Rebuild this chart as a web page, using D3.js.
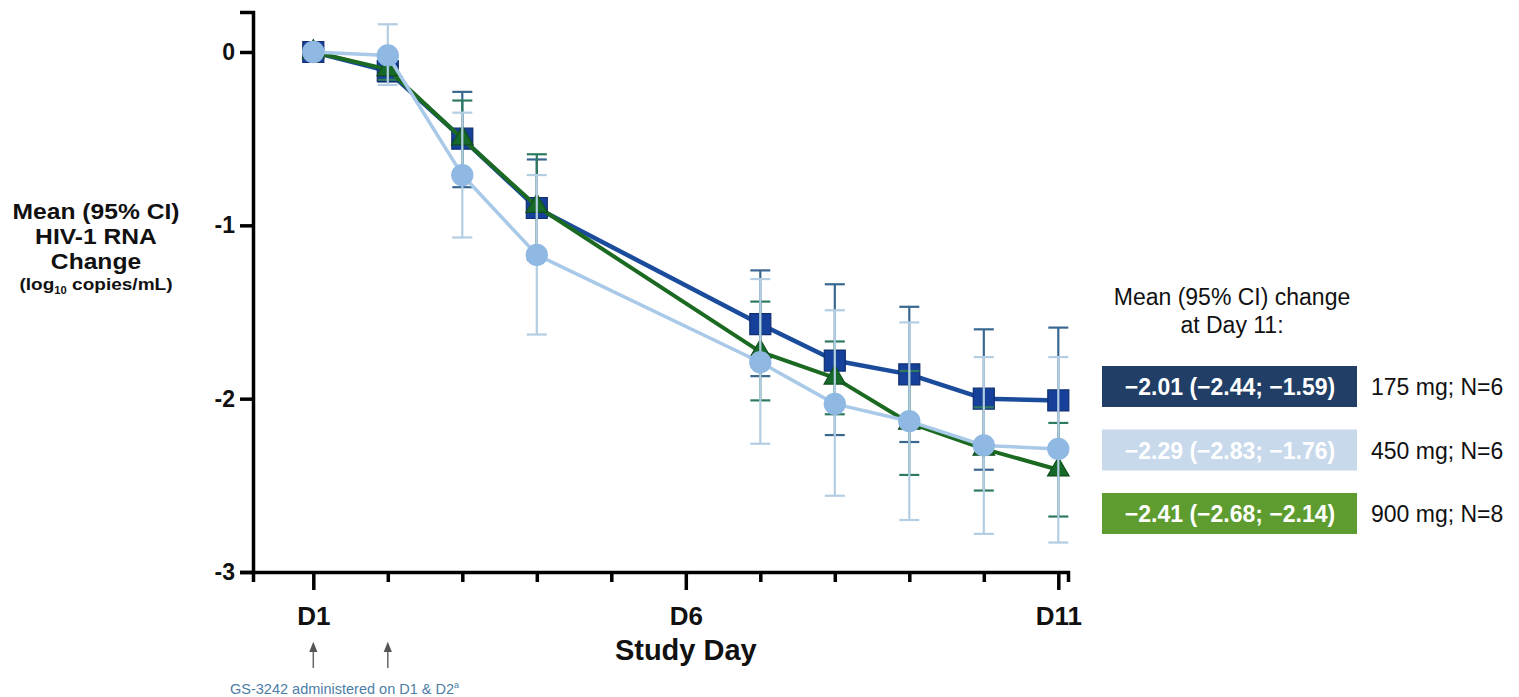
<!DOCTYPE html>
<html>
<head>
<meta charset="utf-8">
<script src="https://cdn.jsdelivr.net/npm/d3@7"></script>
<style>
  html, body { margin: 0; padding: 0; background: #ffffff; }
  svg { display: block; font-family: "Liberation Sans", Arial, sans-serif; }
</style>
</head>
<body>
<svg id="chart" width="1519" height="697"></svg>
<script>
// Study days with measurements
const days = [1, 2, 3, 4, 7, 8, 9, 10, 11];
const tickDays = [1, 2, 3, 4, 5, 6, 7, 8, 9, 10, 11];
const labeledDays = [1, 6, 11];
const yTicks = [0, -1, -2, -3];

// 175 mg; N=6
const mean175  = [0, -0.11, -0.50, -0.90, -1.57, -1.78, -1.86, -2.00, -2.01];
const upper175 = [0, -0.05, -0.23, -0.62, -1.26, -1.34, -1.47, -1.60, -1.59];
const lower175 = [0, -0.17, -0.78, -1.18, -1.87, -2.21, -2.25, -2.41, -2.44];

// 450 mg; N=6
const mean450  = [0, -0.02, -0.71, -1.17, -1.79, -2.03, -2.13, -2.27, -2.29];
const upper450 = [0,  0.16, -0.35, -0.71, -1.31, -1.49, -1.56, -1.76, -1.76];
const lower450 = [0, -0.19, -1.07, -1.63, -2.26, -2.56, -2.70, -2.78, -2.83];

// 900 mg; N=8
const mean900  = [0, -0.10, -0.50, -0.89, -1.73, -1.88, -2.14, -2.29, -2.41];
const upper900 = [0, -0.04, -0.28, -0.59, -1.44, -1.67, -1.84, -2.05, -2.14];
const lower900 = [0, -0.16, -0.72, -1.20, -2.01, -2.09, -2.44, -2.53, -2.68];

// Day 11 summary boxes
const day11Text = ["\u22122.01 (\u22122.44; \u22121.59)", "\u22122.29 (\u22122.83; \u22121.76)", "\u22122.41 (\u22122.68; \u22122.14)"];
const doseLabels = ["175 mg; N=6", "450 mg; N=6", "900 mg; N=8"];

const svg = d3.select("#chart");
const font = '"Liberation Sans", Arial, sans-serif';

// Scales
const x = d3.scaleLinear().domain([1, 11]).range([313.3, 1058.3]);
const y = d3.scaleLinear().domain([-3, 0]).range([572, 52]);

const axisLeftX = 253, axisRightX = 1068, axisTopY = 12;
const xAxisScale = x.copy().domain([x.invert(axisLeftX), x.invert(axisRightX)]).range([axisLeftX, axisRightX]);
const yAxisScale = y.copy().domain([-3, y.invert(axisTopY)]).range([572, axisTopY]);

// Series definitions (style lives here, values come from the arrays above)
const series = [
  { mean: mean175, upper: upper175, lower: lower175, line: "#1b4c9c", lineW: 4.5, err: "#3a6790", errW: 2.2, shape: "square", fill: "#17409a", stroke: "#0f2f70" },
  { mean: mean900, upper: upper900, lower: lower900, line: "#1c6a22", lineW: 4,   err: "#2e7a60", errW: 2.2, shape: "triangle", fill: "#17692a", stroke: "#0f4f1c" },
  { mean: mean450, upper: upper450, lower: lower450, line: "#a9c9e8", lineW: 3.5, err: "#b3cde3", errW: 2.2, shape: "circle", fill: "#8fb8e2", stroke: "#8fb8e2" }
];

const plot = svg.append("g");

series.forEach(s => {
  const pts = days.map((d, i) => ({ day: d, mean: s.mean[i], upper: s.upper[i], lower: s.lower[i] }));
  const g = plot.append("g");

  // confidence interval bars
  const eb = g.selectAll("g.err").data(pts.filter(p => p.upper !== p.lower)).join("g")
    .attr("stroke", s.err).attr("stroke-width", s.errW).attr("fill", "none");
  eb.append("line").attr("x1", p => x(p.day)).attr("x2", p => x(p.day))
    .attr("y1", p => y(p.upper)).attr("y2", p => y(p.lower));
  eb.append("line").attr("x1", p => x(p.day) - 10).attr("x2", p => x(p.day) + 10)
    .attr("y1", p => y(p.upper)).attr("y2", p => y(p.upper));
  eb.append("line").attr("x1", p => x(p.day) - 10).attr("x2", p => x(p.day) + 10)
    .attr("y1", p => y(p.lower)).attr("y2", p => y(p.lower));

  // mean line
  g.append("path").datum(pts)
    .attr("fill", "none").attr("stroke", s.line).attr("stroke-width", s.lineW)
    .attr("stroke-linejoin", "round")
    .attr("d", d3.line().x(p => x(p.day)).y(p => y(p.mean)));

  // markers
  const m = g.selectAll("path.mk").data(pts).join("path")
    .attr("class", "mk")
    .attr("transform", p => `translate(${x(p.day)},${y(p.mean)})`)
    .attr("fill", s.fill).attr("stroke", s.stroke).attr("stroke-width", 1.2);
  if (s.shape === "square") m.attr("d", d3.symbol(d3.symbolSquare, 441)());
  if (s.shape === "circle") m.attr("d", d3.symbol(d3.symbolCircle, 350)());
  if (s.shape === "triangle") m.attr("d", d3.symbol(d3.symbolTriangle, 200)());
});

// X axis
const xAxis = svg.append("g").attr("transform", `translate(0,${y(-3)})`)
  .call(d3.axisBottom(xAxisScale).tickValues(tickDays).tickSizeOuter(0).tickSize(10).tickPadding(25)
    .tickFormat(d => labeledDays.includes(d) ? "D" + d : ""));
xAxis.select(".domain").attr("stroke", "#000").attr("stroke-width", 3.5);
xAxis.selectAll(".tick line").attr("stroke", "#000").attr("stroke-width", 3.5)
  .attr("y2", d => labeledDays.includes(d) ? 18 : 10);
xAxis.selectAll(".tick text").attr("fill", "#111").style("font-family", font)
  .style("font-size", "26px").style("font-weight", "bold");

// Y axis
const yAxis = svg.append("g").attr("transform", `translate(${axisLeftX},0)`)
  .call(d3.axisLeft(yAxisScale).tickValues(yTicks).tickSizeOuter(0).tickSize(13).tickPadding(5)
    .tickFormat(d => d === 0 ? "0" : String(d)));
yAxis.select(".domain").attr("stroke", "#000").attr("stroke-width", 3.5);
yAxis.selectAll(".tick line").attr("stroke", "#000").attr("stroke-width", 3.5);
yAxis.selectAll(".tick text").attr("fill", "#111").style("font-family", font)
  .style("font-size", "23px").style("font-weight", "bold");

// Y axis title (slightly widened lettering)
const yTitleG = svg.append("g").attr("transform", "translate(96,0) scale(1.12,1)");
const yTitle = yTitleG.append("text").attr("text-anchor", "middle").attr("fill", "#111")
  .style("font-family", font).style("font-weight", "bold").style("font-size", "22px");
["Mean (95% CI)", "HIV-1 RNA", "Change"].forEach((t, i) => {
  yTitle.append("tspan").attr("x", 0).attr("y", 219 + i * 25).text(t);
});
const unit = yTitleG.append("text").attr("x", 0).attr("y", 290).attr("text-anchor", "middle")
  .attr("fill", "#111").style("font-family", font).style("font-weight", "bold").style("font-size", "17px");
unit.append("tspan").text("(log");
unit.append("tspan").attr("dy", 4).style("font-size", "10px").text("10");
unit.append("tspan").attr("dy", -4).text(" copies/mL)");

// X axis title
svg.append("text").attr("x", x(6)).attr("y", 660).attr("text-anchor", "middle")
  .attr("fill", "#111").style("font-family", font).style("font-weight", "bold").style("font-size", "29px")
  .text("Study Day");

// Dosing arrows on D1 and D2
const defs = svg.append("defs");
defs.append("marker").attr("id", "arrowHead").attr("viewBox", "0 0 10 10")
  .attr("refX", 5).attr("refY", 5).attr("markerWidth", 7).attr("markerHeight", 7).attr("orient", "auto")
  .append("path").attr("d", "M0,1 L10,5 L0,9 Z").attr("fill", "#555");
svg.selectAll("line.dose").data([1, 2]).join("line").attr("class", "dose")
  .attr("x1", d => x(d)).attr("x2", d => x(d)).attr("y1", 668).attr("y2", 647)
  .attr("stroke", "#666").attr("stroke-width", 1.5).attr("marker-end", "url(#arrowHead)");
const note = svg.append("text").attr("x", 230).attr("y", 694).attr("fill", "#4d7ea6")
  .style("font-family", font).style("font-size", "14.5px");
note.append("tspan").text("GS-3242 administered on D1 & D2");
note.append("tspan").attr("dy", -6).style("font-size", "9px").text("a");

// Day 11 summary legend
const legTitle = svg.append("text").attr("text-anchor", "middle").attr("fill", "#111")
  .style("font-family", font).style("font-size", "23px");
legTitle.append("tspan").attr("x", 1232).attr("y", 305).text("Mean (95% CI) change");
legTitle.append("tspan").attr("x", 1232).attr("y", 333).text("at Day 11:");

const boxColors = ["#213f66", "#c8d9ec", "#5e9c2f"];
const rowTop = i => 366 + i * 63.5;
const rows = svg.selectAll("g.legrow").data(day11Text).join("g").attr("class", "legrow");
rows.append("rect").attr("x", 1102).attr("y", (d, i) => rowTop(i)).attr("width", 255).attr("height", 41)
  .attr("fill", (d, i) => boxColors[i]);
rows.append("text").attr("x", 1230).attr("y", (d, i) => rowTop(i) + 29).attr("text-anchor", "middle")
  .attr("fill", "#ffffff").style("font-family", font).style("font-weight", "bold").style("font-size", "23px")
  .text(d => d);
rows.append("text").attr("x", 1371).attr("y", (d, i) => rowTop(i) + 29)
  .attr("fill", "#111").style("font-family", font).style("font-size", "23px")
  .text((d, i) => doseLabels[i]);
</script>
</body>
</html>
